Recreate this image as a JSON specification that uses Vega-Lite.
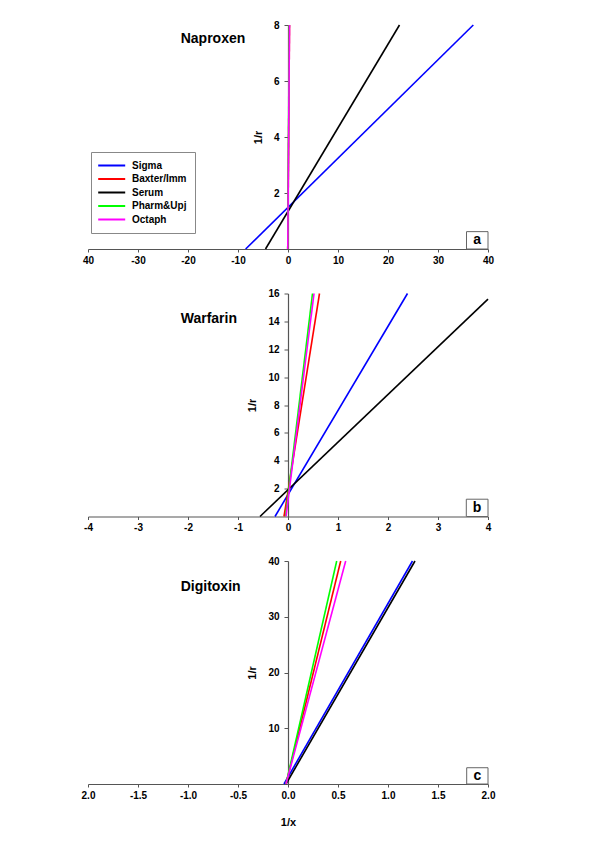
{
  "$schema": "https://vega.github.io/schema/vega-lite/v6.json",
  "background": "white",
  "padding": {"top": 20, "left": 81, "right": 5, "bottom": 5},
  "bounds": "flush",
  "spacing": 44.5,
  "datasets": {
    "nap": [
      {"series": "Sigma", "x": -8.47, "y": 0}, {"series": "Sigma", "x": 37.06, "y": 8},
      {"series": "Baxter/Imm", "x": -0.05, "y": 0}, {"series": "Baxter/Imm", "x": 0.3, "y": 8},
      {"series": "Serum", "x": -4.5, "y": 0}, {"series": "Serum", "x": 22.3, "y": 8},
      {"series": "Pharm&Upj", "x": -0.05, "y": 0}, {"series": "Pharm&Upj", "x": 0.25, "y": 8},
      {"series": "Octaph", "x": -0.05, "y": 0}, {"series": "Octaph", "x": 0.3, "y": 8}
    ],
    "war": [
      {"series": "Sigma", "x": -0.26, "y": 0}, {"series": "Sigma", "x": 2.39, "y": 16},
      {"series": "Baxter/Imm", "x": -0.08, "y": 0}, {"series": "Baxter/Imm", "x": 0.63, "y": 16},
      {"series": "Serum", "x": -0.56, "y": 0}, {"series": "Serum", "x": 4.0, "y": 15.6},
      {"series": "Pharm&Upj", "x": -0.05, "y": 0}, {"series": "Pharm&Upj", "x": 0.49, "y": 16},
      {"series": "Octaph", "x": -0.04, "y": 0}, {"series": "Octaph", "x": 0.52, "y": 16}
    ],
    "dig": [
      {"series": "Sigma", "x": -0.04, "y": 0}, {"series": "Sigma", "x": 1.245, "y": 40},
      {"series": "Baxter/Imm", "x": -0.02, "y": 0}, {"series": "Baxter/Imm", "x": 0.527, "y": 40},
      {"series": "Serum", "x": -0.02, "y": 0}, {"series": "Serum", "x": 1.27, "y": 40},
      {"series": "Pharm&Upj", "x": -0.02, "y": 0}, {"series": "Pharm&Upj", "x": 0.487, "y": 40},
      {"series": "Octaph", "x": -0.02, "y": 0}, {"series": "Octaph", "x": 0.577, "y": 40}
    ]
  },
  "resolve": {"scale": {"color": "independent", "x": "independent", "y": "independent"}, "legend": {"color": "independent"}},
  "vconcat": [
    {
      "width": 400, "height": 224,
      "layer": [
        {
          "data": {"name": "nap"},
          "mark": {"type": "line", "strokeWidth": 1.6},
          "encoding": {
            "x": {"field": "x", "type": "quantitative", "scale": {"domain": [-40, 40], "nice": false, "zero": false},
                  "axis": {"title": null, "labelOverlap": false, "tickCount": 20, "values": [-40, -30, -20, -10, 0, 10, 20, 30, 40], "labelExpr": "datum.value == -40 ? '40' : '' + datum.value"}},
            "y": {"field": "y", "type": "quantitative", "scale": {"domain": [0, 8], "nice": false},
                  "axis": {"title": "1/r", "orient": "left", "offset": -200, "labelOverlap": false, "tickCount": 20, "values": [2, 4, 6, 8], "labelExpr": "'' + datum.value"}},
            "color": {"field": "series", "type": "nominal",
                      "scale": {"domain": ["Sigma", "Baxter/Imm", "Serum", "Pharm&Upj", "Octaph"], "range": ["#0000ff", "#ff0000", "#000000", "#00ff00", "#ff00ff"]},
                      "legend": {"orient": "none", "legendX": 3, "legendY": 127, "title": null,
                                 "symbolType": "M-1.4,0H4.6", "symbolSize": 81, "symbolStrokeWidth": 2,
                                 "labelFont": "Liberation Sans", "labelFontWeight": "bold", "labelFontSize": 10, "labelColor": "black",
                                 "labelOffset": 22, "rowPadding": 2.5, "padding": 8,
                                 "strokeColor": "#888888", "fillColor": "white"}}
          }
        },
        {
          "data": {"values": [{"k": "a"}]},
          "mark": {"type": "rect", "fill": "white", "stroke": "#666666", "strokeWidth": 1},
          "encoding": {"x": {"datum": 35.7}, "x2": {"datum": 40}, "y": {"datum": 0}, "y2": {"datum": 0.62}}
        },
        {
          "data": {"values": [{"k": "a"}]},
          "mark": {"type": "text", "font": "Liberation Sans", "fontWeight": "bold", "fontSize": 14, "align": "center", "baseline": "middle"},
          "encoding": {"text": {"field": "k"}, "x": {"datum": 37.85}, "y": {"datum": 0.33}}
        },
        {
          "data": {"values": [{"k": "Naproxen"}]},
          "mark": {"type": "text", "font": "Liberation Sans", "fontWeight": "bold", "fontSize": 14, "align": "left", "baseline": "middle"},
          "encoding": {"text": {"field": "k"}, "x": {"datum": -21.46}, "y": {"datum": 7.49}}
        }
      ]
    },
    {
      "width": 400, "height": 223,
      "layer": [
        {
          "data": {"name": "war"},
          "mark": {"type": "line", "strokeWidth": 1.6},
          "encoding": {
            "x": {"field": "x", "type": "quantitative", "scale": {"domain": [-4, 4], "nice": false, "zero": false},
                  "axis": {"title": null, "labelOverlap": false, "tickCount": 20, "values": [-4, -3, -2, -1, 0, 1, 2, 3, 4], "labelExpr": "'' + datum.value"}},
            "y": {"field": "y", "type": "quantitative", "scale": {"domain": [0, 16], "nice": false},
                  "axis": {"title": "1/r", "orient": "left", "offset": -200, "labelOverlap": false, "tickCount": 20, "values": [2, 4, 6, 8, 10, 12, 14, 16], "labelExpr": "'' + datum.value"}},
            "color": {"field": "series", "type": "nominal",
                      "scale": {"domain": ["Sigma", "Baxter/Imm", "Serum", "Pharm&Upj", "Octaph"], "range": ["#0000ff", "#ff0000", "#000000", "#00ff00", "#ff00ff"]},
                      "legend": null}
          }
        },
        {
          "data": {"values": [{"k": "b"}]},
          "mark": {"type": "rect", "fill": "white", "stroke": "#666666", "strokeWidth": 1},
          "encoding": {"x": {"datum": 3.566}, "x2": {"datum": 4}, "y": {"datum": 0}, "y2": {"datum": 1.24}}
        },
        {
          "data": {"values": [{"k": "b"}]},
          "mark": {"type": "text", "font": "Liberation Sans", "fontWeight": "bold", "fontSize": 14, "align": "center", "baseline": "middle"},
          "encoding": {"text": {"field": "k"}, "x": {"datum": 3.783}, "y": {"datum": 0.62}}
        },
        {
          "data": {"values": [{"k": "Warfarin"}]},
          "mark": {"type": "text", "font": "Liberation Sans", "fontWeight": "bold", "fontSize": 14, "align": "left", "baseline": "middle"},
          "encoding": {"text": {"field": "k"}, "x": {"datum": -2.146}, "y": {"datum": 14.19}}
        }
      ]
    },
    {
      "width": 400, "height": 223,
      "layer": [
        {
          "data": {"name": "dig"},
          "mark": {"type": "line", "strokeWidth": 1.6},
          "encoding": {
            "x": {"field": "x", "type": "quantitative", "scale": {"domain": [-2, 2], "nice": false, "zero": false},
                  "axis": {"title": "1/x", "labelOverlap": false, "tickCount": 20, "values": [-2, -1.5, -1, -0.5, 0, 0.5, 1, 1.5, 2],
                           "labelExpr": "datum.value == -2 ? '2.0' : (datum.value < 0 ? '-' + format(-datum.value, '.1f') : format(datum.value, '.1f'))"}},
            "y": {"field": "y", "type": "quantitative", "scale": {"domain": [0, 40], "nice": false},
                  "axis": {"title": "1/r", "orient": "left", "offset": -200, "labelOverlap": false, "tickCount": 20, "values": [10, 20, 30, 40], "labelExpr": "'' + datum.value"}},
            "color": {"field": "series", "type": "nominal",
                      "scale": {"domain": ["Sigma", "Baxter/Imm", "Serum", "Pharm&Upj", "Octaph"], "range": ["#0000ff", "#ff0000", "#000000", "#00ff00", "#ff00ff"]},
                      "legend": null}
          }
        },
        {
          "data": {"values": [{"k": "c"}]},
          "mark": {"type": "rect", "fill": "white", "stroke": "#666666", "strokeWidth": 1},
          "encoding": {"x": {"datum": 1.787}, "x2": {"datum": 2}, "y": {"datum": 0}, "y2": {"datum": 2.92}}
        },
        {
          "data": {"values": [{"k": "c"}]},
          "mark": {"type": "text", "font": "Liberation Sans", "fontWeight": "bold", "fontSize": 14, "align": "center", "baseline": "middle"},
          "encoding": {"text": {"field": "k"}, "x": {"datum": 1.893}, "y": {"datum": 1.46}}
        },
        {
          "data": {"values": [{"k": "Digitoxin"}]},
          "mark": {"type": "text", "font": "Liberation Sans", "fontWeight": "bold", "fontSize": 14, "align": "left", "baseline": "middle"},
          "encoding": {"text": {"field": "k"}, "x": {"datum": -1.073}, "y": {"datum": 35.34}}
        }
      ]
    }
  ],
  "config": {
    "view": {"stroke": null},
    "axis": {
      "grid": false, "domainColor": "#555555", "domainWidth": 1.2, "tickColor": "#555555", "tickWidth": 1, "tickSize": 3,
      "labelFont": "Liberation Sans", "labelFontWeight": "bold", "labelFontSize": 10, "labelColor": "black",
      "labelFlush": false, "labelOverlap": false, "labelPadding": 3,
      "titleFont": "Liberation Sans", "titleFontWeight": "bold", "titleFontSize": 11, "titleColor": "black", "titlePadding": 10
    },
    "axisX": {"titlePadding": 16},
    "axisY": {"tickSize": 4, "labelPadding": 5}
  }
}
